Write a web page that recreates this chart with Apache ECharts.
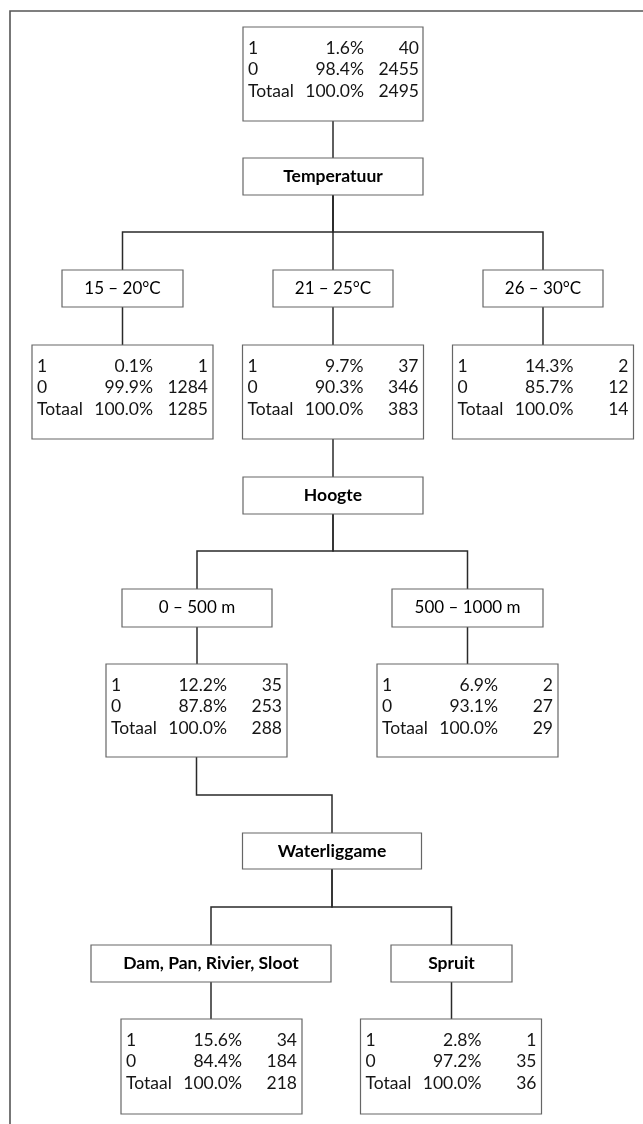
<!DOCTYPE html>
<html>
<head>
<meta charset="utf-8">
<script src="https://cdn.jsdelivr.net/npm/echarts@6/dist/echarts.min.js"></script>
<style>
  html, body { margin: 0; padding: 0; background: #fff; }
  #chart { width: 643px; height: 1124px; }
</style>
</head>
<body>
<div id="chart"></div>
<script>
// ---------- DATA ----------
const classLabels = ['1', '0', 'Totaal'];
const splitVars = ['Temperatuur', 'Hoogte', 'Waterliggame'];
const tempCats = ['15 – 20°C', '21 – 25°C', '26 – 30°C'];
const heightCats = ['0 – 500 m', '500 – 1000 m'];
const waterCats = ['Dam, Pan, Rivier, Sloot', 'Spruit'];

const rootPct = [1.6, 98.4, 100.0];
const rootN = [40, 2455, 2495];
const tempPct = [[0.1, 99.9, 100.0], [9.7, 90.3, 100.0], [14.3, 85.7, 100.0]];
const tempN = [[1, 1284, 1285], [37, 346, 383], [2, 12, 14]];
const heightPct = [[12.2, 87.8, 100.0], [6.9, 93.1, 100.0]];
const heightN = [[35, 253, 288], [2, 27, 29]];
const waterPct = [[15.6, 84.4, 100.0], [2.8, 97.2, 100.0]];
const waterN = [[34, 184, 218], [1, 35, 36]];

// ---------- LAYOUT (diagram units, drawn through hidden value axes) ----------
const L = {
  root:        { cx: 333, top: 27, w: 180, h: 94 },
  splitTemp:   { cx: 333, top: 158, w: 180, h: 37 },
  tempCat:     { cx: [122.5, 333, 543], top: 270, w: [121, 120, 120], h: 37 },
  tempStats:   { cx: [122.5, 333, 543], top: 345, w: 181, h: 94 },
  splitHeight: { cx: 333, top: 477, w: 180, h: 37 },
  heightCat:   { cx: [197, 467.5], top: 589, w: [150, 151], h: 38 },
  heightStats: { cx: [196.5, 467.5], top: 664, w: 181, h: 93 },
  splitWater:  { cx: 332, top: 833, w: 179, h: 36 },
  waterCat:    { cx: [211, 451.5], top: 945, w: [240, 121], h: 37 },
  waterStats:  { cx: [211.5, 451], top: 1019, w: 181, h: 95 }
};
const elbowY = { temp: 232, height: 551, water: 907, toWater: 795 };

// ---------- BUILD NODES ----------
const nodes = [];
function add(node) { nodes.push(node); return nodes.length - 1; }
function pick(v, i) { return Array.isArray(v) ? v[i] : v; }
function geo(key, i) {
  const g = L[key];
  return { cx: pick(g.cx, i), top: g.top, w: pick(g.w, i), h: g.h };
}

const iRoot = add(Object.assign({ kind: 'stats', pct: rootPct, n: rootN, parent: -1 }, geo('root')));
const iTemp = add(Object.assign({ kind: 'split', text: splitVars[0], parent: iRoot, mid: null, bold: true }, geo('splitTemp')));
const tempStatIdx = [];
tempCats.forEach((c, i) => {
  const ic = add(Object.assign({ kind: 'cat', text: c, parent: iTemp, mid: elbowY.temp, bold: false }, geo('tempCat', i)));
  tempStatIdx.push(add(Object.assign({ kind: 'stats', pct: tempPct[i], n: tempN[i], parent: ic, mid: null }, geo('tempStats', i))));
});
const iHeight = add(Object.assign({ kind: 'split', text: splitVars[1], parent: tempStatIdx[1], mid: null, bold: true }, geo('splitHeight')));
const heightStatIdx = [];
heightCats.forEach((c, i) => {
  const ic = add(Object.assign({ kind: 'cat', text: c, parent: iHeight, mid: elbowY.height, bold: false }, geo('heightCat', i)));
  heightStatIdx.push(add(Object.assign({ kind: 'stats', pct: heightPct[i], n: heightN[i], parent: ic, mid: null }, geo('heightStats', i))));
});
const iWater = add(Object.assign({ kind: 'split', text: splitVars[2], parent: heightStatIdx[0], mid: elbowY.toWater, bold: true }, geo('splitWater')));
waterCats.forEach((c, i) => {
  const ic = add(Object.assign({ kind: 'cat', text: c, parent: iWater, mid: elbowY.water, bold: true }, geo('waterCat', i)));
  add(Object.assign({ kind: 'stats', pct: waterPct[i], n: waterN[i], parent: ic, mid: null }, geo('waterStats', i)));
});

// connectors
const links = [];
nodes.forEach(nd => {
  if (nd.parent < 0) return;
  const p = nodes[nd.parent];
  const x0 = p.cx, y0 = p.top + p.h, x1 = nd.cx, y1 = nd.top;
  let coords;
  if (nd.mid == null || Math.abs(x0 - x1) < 0.6) coords = [[x0, y0], [x0, y1]];
  else coords = [[x0, y0], [x0, nd.mid], [x1, nd.mid], [x1, y1]];
  links.push({ coords });
});

const FONT = 'Lato, "Open Sans", sans-serif';
const TXT = '#151515';
const STAT_SIZE = 17.5;

const chart = echarts.init(document.getElementById('chart'), null, { renderer: 'canvas' });
chart.setOption({
  backgroundColor: '#ffffff',
  animation: false,
  grid: { left: 0, right: 0, top: 0, bottom: 0 },
  xAxis: { type: 'value', min: 0, max: 643, show: false },
  yAxis: { type: 'value', min: 0, max: 1124, inverse: true, show: false },
  graphic: [{
    type: 'polyline',
    shape: { points: [[10, 1124], [10, 11], [643, 11]] },
    style: { stroke: '#555555', lineWidth: 1.6, fill: null },
    z: 0
  }],
  series: [
    {
      type: 'lines',
      coordinateSystem: 'cartesian2d',
      polyline: true,
      silent: true,
      lineStyle: { color: '#2a2a2a', width: 1.5, opacity: 1 },
      data: links,
      z: 1
    },
    {
      type: 'custom',
      coordinateSystem: 'cartesian2d',
      clip: false,
      silent: true,
      z: 2,
      data: nodes.map(nd => [nd.cx, nd.top]),
      renderItem: function (params, api) {
        const nd = nodes[params.dataIndex];
        const left = nd.cx - nd.w / 2;
        const p0 = api.coord([left, nd.top]);
        const p1 = api.coord([left + nd.w, nd.top + nd.h]);
        const children = [{
          type: 'rect',
          shape: { x: p0[0], y: p0[1], width: p1[0] - p0[0], height: p1[1] - p0[1] },
          style: { fill: '#ffffff', stroke: '#666666', lineWidth: 1.2 }
        }];
        if (nd.kind === 'stats') {
          const rowOff = [21, 42.5, 64];
          for (let r = 0; r < 3; r++) {
            const yRow = nd.top + rowOff[r];
            const a = api.coord([left + 5, yRow]);
            const b = api.coord([left + 121, yRow]);
            const c = api.coord([left + 176, yRow]);
            children.push({ type: 'text', style: { x: a[0], y: a[1], text: classLabels[r], fill: TXT, fontFamily: FONT, fontSize: STAT_SIZE, align: 'left', verticalAlign: 'middle' } });
            children.push({ type: 'text', style: { x: b[0], y: b[1], text: nd.pct[r].toFixed(1) + '%', fill: TXT, fontFamily: FONT, fontSize: STAT_SIZE, align: 'right', verticalAlign: 'middle' } });
            children.push({ type: 'text', style: { x: c[0], y: c[1], text: String(nd.n[r]), fill: TXT, fontFamily: FONT, fontSize: STAT_SIZE, align: 'right', verticalAlign: 'middle' } });
          }
        } else {
          const m = api.coord([nd.cx, nd.top + nd.h / 2]);
          children.push({
            type: 'text',
            style: {
              x: m[0], y: m[1], text: nd.text, fill: '#000',
              fontFamily: FONT, fontSize: nd.bold ? 17.5 : 17,
              fontWeight: nd.bold ? 'bold' : 'normal',
              align: 'center', verticalAlign: 'middle'
            }
          });
        }
        return { type: 'group', children };
      }
    }
  ]
});
</script>
</body>
</html>
